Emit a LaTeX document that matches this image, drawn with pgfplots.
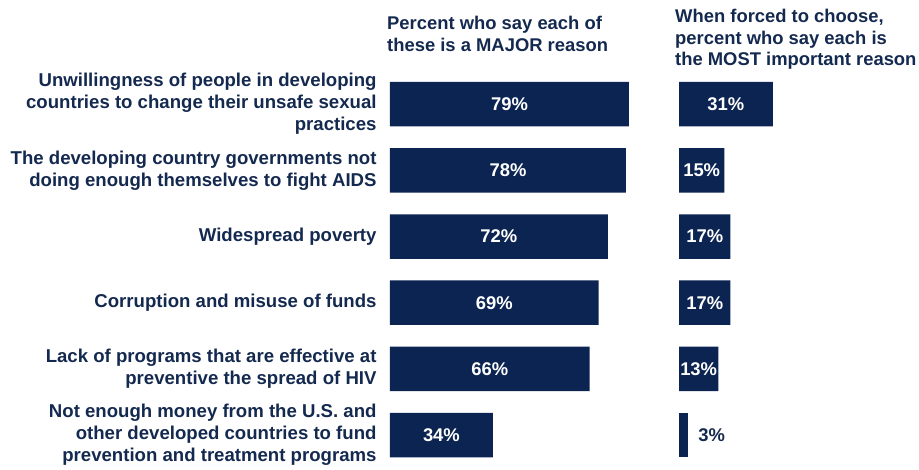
\documentclass[border=0pt]{standalone}
\usepackage{fontspec}
\setmainfont{Liberation Sans}
\usepackage{pgfplots}
\pgfplotsset{compat=1.18}
\definecolor{barblue}{HTML}{0B2451}
\definecolor{txtblue}{HTML}{14294F}

\newcommand{\chartfont}{\fontsize{18.4}{21.5}\selectfont\bfseries}
\newcommand{\labelfont}{\fontsize{18.6}{22}\selectfont\bfseries}

\pgfplotsset{
  panel/.style={
    xbar, bar width=44.5pt, bar shift=0pt,
    x=3.025pt, y=66.2pt, y dir=reverse,
    xmin=0, ymin=-0.5, ymax=5.5,
    scale only axis, clip=false,
    axis line style={draw=none}, tick style={draw=none},
    xtick=\empty, ytick={0,...,5},
    /pgf/number format/assume math mode=true,
    visualization depends on={x \as \rawx},
  },
  inside/.style={fill=barblue, draw=none,
    nodes near coords={\pgfmathprintnumber{\pgfplotspointmeta}\%},
    every node near coord/.append style={font=\chartfont, text=white, anchor=center,
      xshift={-\rawx*3.025pt/2}}},
  outside/.style={fill=barblue, draw=none,
    nodes near coords={\pgfmathprintnumber{\pgfplotspointmeta}\%},
    every node near coord/.append style={font=\chartfont, text=txtblue, anchor=west,
      inner sep=0pt, xshift=10pt}},
}

\begin{document}
\begin{tikzpicture}[x=1pt,y=1pt]
\useasboundingbox (0,0) rectangle (919,469);

% left panel: major reason
\begin{axis}[panel, at={(390pt,398pt)}, anchor=north west, xmax=85,
  yticklabel style={font=\labelfont, text=txtblue, align=right, inner sep=0pt, xshift=-9pt},
  yticklabels={
    {Unwillingness of people in developing\\countries to change their unsafe sexual\\practices},
    {The developing country governments not\\doing enough themselves to fight AIDS},
    {Widespread poverty},
    {Corruption and misuse of funds},
    {Lack of programs that are effective at\\preventive the spread of HIV},
    {Not enough money from the U.S. and\\other developed countries to fund\\prevention and treatment programs}},
]
\addplot[inside] coordinates {(79,0) (78,1) (72,2) (69,3) (66,4) (34,5)};
\end{axis}

% right panel: most important reason
\begin{axis}[panel, at={(679pt,398pt)}, anchor=north west, xmax=35,
  yticklabels={}]
\addplot[inside] coordinates {(31,0) (15,1) (17,2) (17,3) (13,4)};
\addplot[outside] coordinates {(3,5)};
\end{axis}

\node[anchor=north west, align=left, inner sep=0pt, font=\chartfont, text=txtblue]
  at (387,453) {Percent who say each of\\these is a MAJOR reason};
\node[anchor=north west, align=left, inner sep=0pt, font=\chartfont, text=txtblue]
  at (675,460) {When forced to choose,\\percent who say each is\\the MOST important reason};
\end{tikzpicture}
\end{document}
